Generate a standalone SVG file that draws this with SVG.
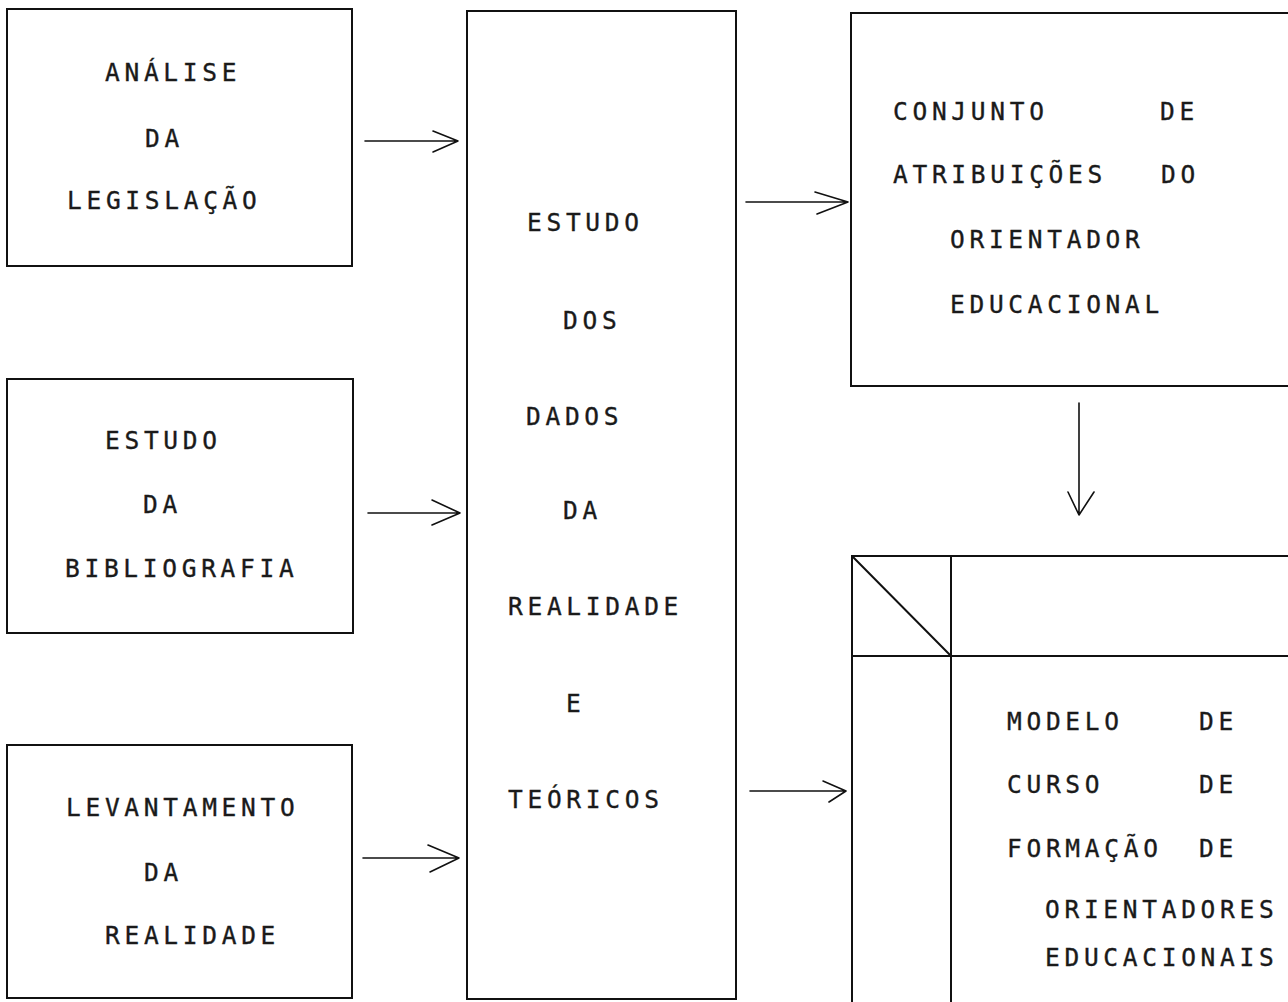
<svg xmlns="http://www.w3.org/2000/svg" width="1288" height="1002" viewBox="0 0 1288 1002">
<style>
.box{fill:none;stroke:#111;stroke-width:2}
.ln{fill:none;stroke:#111;stroke-width:2}
.con{fill:none;stroke:#111;stroke-width:1.6;stroke-linecap:round;stroke-linejoin:round}
text{font-family:"DejaVu Sans Mono","Liberation Mono",monospace;font-size:24.5px;letter-spacing:4.7px;fill:#1a1a1a;stroke:#1a1a1a;stroke-width:0.35}
</style>
<rect width="1288" height="1002" fill="#fff"/>
<g id="node-analise">
<rect class="box" x="7" y="9" width="345" height="257"/>
<text x="105" y="81">ANÁLISE</text>
<text x="145" y="147">DA</text>
<text x="67" y="209">LEGISLAÇÃO</text>
</g>
<g id="node-bibliografia">
<rect class="box" x="7" y="379" width="346" height="254"/>
<text x="105" y="449">ESTUDO</text>
<text x="143" y="513">DA</text>
<text x="65" y="577">BIBLIOGRAFIA</text>
</g>
<g id="node-levantamento">
<rect class="box" x="7" y="745" width="345" height="253"/>
<text x="66" y="816">LEVANTAMENTO</text>
<text x="144" y="881">DA</text>
<text x="105" y="944">REALIDADE</text>
</g>
<g id="node-estudo-dados">
<rect class="box" x="467" y="11" width="269" height="988"/>
<text x="527" y="231">ESTUDO</text>
<text x="563" y="329">DOS</text>
<text x="526" y="425">DADOS</text>
<text x="563" y="519">DA</text>
<text x="508" y="615">REALIDADE</text>
<text x="566" y="712">E</text>
<text x="508" y="808">TEÓRICOS</text>
</g>
<g id="node-conjunto">
<rect class="box" x="851" y="13" width="460" height="373"/>
<text x="893" y="120">CONJUNTO</text>
<text x="1160" y="120">DE</text>
<text x="893" y="183">ATRIBUIÇÕES</text>
<text x="1161" y="183">DO</text>
<text x="950" y="248">ORIENTADOR</text>
<text x="950" y="313">EDUCACIONAL</text>
</g>
<g id="node-modelo">
<path class="ln" d="M852 1004 V556 H1290 M951 556 V1004 M852 656 H1290 M852 556 L951 656"/>
<text x="1007" y="730">MODELO</text>
<text x="1199" y="730">DE</text>
<text x="1007" y="793">CURSO</text>
<text x="1199" y="793">DE</text>
<text x="1007" y="857">FORMAÇÃO</text>
<text x="1199" y="857">DE</text>
<text x="1045" y="918">ORIENTADORES</text>
<text x="1045" y="966">EDUCACIONAIS</text>
</g>
<g id="connectors">
<path class="con" d="M365 141 H458 M433 131 L458 141 L433 152"/>
<path class="con" d="M368 513 H460 M432 500 L460 513 L432 525"/>
<path class="con" d="M363 858 H459 M428 845 L459 858 L430 872"/>
<path class="con" d="M746 202 H848 M815 192 L848 202 L817 214"/>
<path class="con" d="M750 791 H846 M823 781 L846 791 L829 802"/>
<path class="con" d="M1079 403 V515 M1068 492 L1079 515 L1094 492"/>
</g>
</svg>
